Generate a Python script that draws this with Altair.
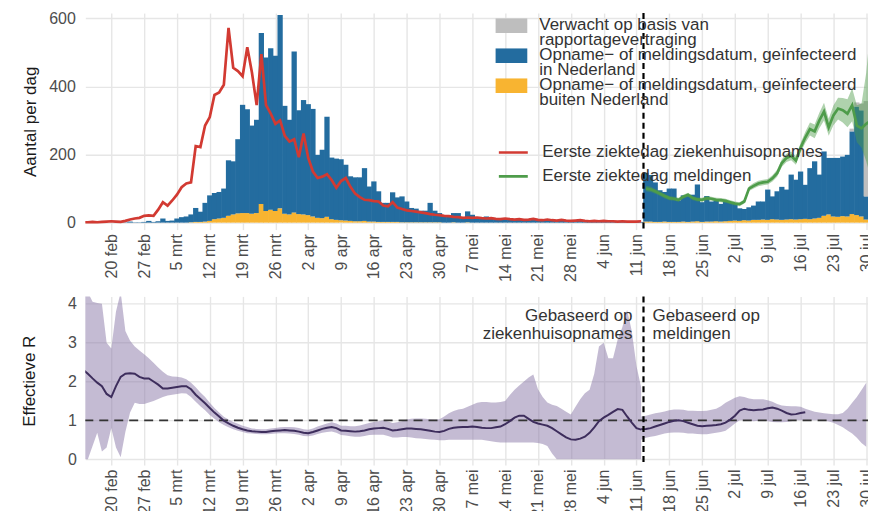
import altair as alt
import pandas as pd

FONT = "Liberation Sans"
FIRST_DAY = "2020-02-14"          # first bar / first curve day
SPLIT_MOMENT = "2020-06-12T12:00:00Z"
DOMAIN = ["2020-02-14T11:00:00Z", "2020-07-31T03:00:00Z"]

# legend lines (one legend row per printed line; every 2nd row continues the entry above)
LEGEND_LINES = ["Verwacht op basis van", "rapportagevertraging",
                "Opname\u2212 of meldingsdatum, geïnfecteerd", "in Nederland",
                "Opname\u2212 of meldingsdatum, geïnfecteerd", "buiten Nederland"]
LEGEND_KEYS = ["%d|%s" % (i, s) for i, s in enumerate(LEGEND_LINES)]
CAT_EXP, CAT_NL, CAT_ABROAD = LEGEND_KEYS[0], LEGEND_KEYS[2], LEGEND_KEYS[4]
SER_RED = "Eerste ziektedag ziekenhuisopnames"
SER_GREEN = "Eerste ziektedag meldingen"

# --- daily bars, 2020-02-14 .. 2020-07-30 (stack top = total) ---
BAR_TOTAL = [0, 0, 0, 0, 1, 0,
             0, 1, 0, 1, 3, 1, 1, 2, 5, 2,
             4, 12, 5, 6, 12, 16, 18, 24, 43, 32,
             58, 80, 87, 90, 100, 183, 180, 245, 346, 333,
             285, 302, 557, 485, 512, 490, 610, 343, 302, 503,
             330, 360, 348, 334, 199, 214, 311, 191, 188, 186,
             170, 136, 133, 133, 160, 106, 121, 92, 58, 58,
             89, 74, 77, 62, 43, 41, 35, 35, 58, 35,
             28, 18, 18, 28, 28, 14, 33, 23, 15, 12,
             18, 14, 10, 12, 9, 13, 8, 10, 9, 7,
             11, 8, 6, 9, 7, 5, 8, 6, 5, 7,
             6, 4, 6, 5, 4, 6, 5, 3, 5, 4,
             3, 4, 3, 2,
             146, 140, 118, 95, 90, 100,
             100, 65, 80, 78, 82, 112, 60, 78, 62, 65,
             55, 62, 58, 55, 42, 40, 45, 50, 62, 62,
             97, 77, 92, 105, 97, 141, 126, 150, 111, 160,
             180, 141, 209, 190, 190, 190, 194, 199, 268, 341,
             330, 77]
BAR_ABROAD = [0, 0, 0, 0, 0, 0,
              0, 0, 0, 0, 0, 0, 0, 0, 0, 0,
              0, 0, 0, 0, 0, 0, 0, 1, 2, 2,
              3, 5, 10, 12, 14, 20, 24, 27, 28, 28,
              26, 28, 55, 34, 38, 34, 42, 26, 24, 30,
              25, 24, 22, 18, 14, 13, 17, 10, 8, 7,
              6, 5, 4, 4, 5, 3, 3, 2, 2, 2,
              2, 2, 1, 1, 1, 1, 1, 1, 1, 1,
              1, 0, 0, 1, 0, 0, 1, 0, 0, 0,
              0, 0, 0, 0, 0, 0, 0, 0, 0, 0,
              0, 0, 0, 0, 0, 0, 0, 0, 0, 0,
              0, 0, 0, 0, 0, 0, 0, 0, 0, 0,
              0, 0, 0, 0,
              3, 3, 2, 2, 3, 2,
              2, 2, 3, 2, 3, 4, 2, 3, 3, 4,
              3, 4, 5, 6, 5, 7, 6, 8, 8, 9,
              8, 10, 9, 8, 9, 10, 9, 10, 11, 10,
              12, 14, 20, 24, 18, 17, 19, 18, 25, 22,
              18, 9]
EXPECTED_DATES = ["2020-07-27", "2020-07-28", "2020-07-29", "2020-07-30"]
EXPECTED_VALUES = [8, 12, 20, 280]

# --- curves ---
RED_START = "2020-02-14"
RED_LINE = [1, 1, 2, 1, 2, 3,
            4, 3, 2, 5, 9, 12, 14, 20, 21, 20,
            38, 60, 50, 65, 82, 104, 115, 118, 225, 222,
            285, 310, 375, 382, 405, 572, 455, 445, 430, 515,
            440, 345, 495, 345, 320, 290, 300, 255, 238, 245,
            192, 262, 190, 150, 131, 135, 142, 125, 102, 122,
            131, 105, 85, 75, 67, 66, 63, 62, 50, 48,
            60, 44, 40, 36, 34, 32, 30, 28, 25, 23,
            22, 20, 19, 17, 16, 14, 15, 14, 15, 13,
            12, 13, 11, 10, 12, 10, 9, 10, 8, 9,
            11, 8, 7, 9, 7, 6, 8, 6, 5, 6,
            7, 5, 4, 5, 4, 5, 4, 4, 3, 4,
            3, 3, 3, 4]
GREEN_START = "2020-06-13"
GREEN_LINE = [100, 98, 92, 85, 78, 72,
              70, 67, 76, 82, 72, 68, 67, 72, 70, 67,
              66, 64, 60, 56, 54, 62, 100, 108, 115, 118,
              120, 130, 145, 175, 190, 196, 182, 220, 250, 275,
              268, 300, 326, 280, 315, 335, 330, 320, 345, 285,
              277, 290, 300]
GREEN_LO = [92, 90, 85, 78, 71, 66,
            64, 61, 70, 76, 66, 62, 61, 66, 64, 61,
            60, 58, 54, 50, 48, 56, 93, 100, 107, 110,
            112, 121, 135, 164, 178, 183, 170, 206, 234, 256,
            248, 277, 300, 255, 286, 303, 294, 280, 298, 236,
            220, 180, 130]
GREEN_HI = [108, 106, 99, 92, 85, 78,
            76, 73, 82, 88, 78, 74, 73, 78, 76, 73,
            72, 70, 66, 62, 60, 68, 107, 116, 123, 126,
            128, 139, 155, 186, 202, 209, 194, 234, 266, 294,
            288, 323, 352, 305, 344, 367, 366, 362, 395, 345,
            350, 440, 590]

# --- effective R ---
R_HOSP_START = "2020-02-14"
R_HOSP = [2.3, 2.2, 2.08, 1.97, 1.88, 1.68,
          1.6, 1.88, 2.12, 2.2, 2.21, 2.2, 2.12, 2.08, 2.08, 2.0,
          1.92, 1.82, 1.82, 1.84, 1.86, 1.88, 1.88, 1.8, 1.66, 1.55,
          1.44, 1.32, 1.2, 1.1, 0.99, 0.92, 0.86, 0.81, 0.77, 0.74,
          0.72, 0.71, 0.7, 0.7, 0.72, 0.73, 0.74, 0.75, 0.74, 0.73,
          0.71, 0.68, 0.67, 0.7, 0.74, 0.78, 0.81, 0.83, 0.8, 0.74,
          0.73, 0.72, 0.71, 0.72, 0.74, 0.77, 0.79, 0.8, 0.81, 0.78,
          0.74, 0.75, 0.77, 0.79, 0.79, 0.78, 0.77, 0.75, 0.73, 0.71,
          0.7, 0.73, 0.78, 0.81, 0.82, 0.83, 0.83, 0.84, 0.83, 0.81,
          0.8, 0.8, 0.82, 0.84, 0.9, 0.98, 1.07, 1.12, 1.12, 1.04,
          0.96, 0.92, 0.89, 0.86, 0.8, 0.72, 0.64, 0.56, 0.51, 0.5,
          0.53, 0.58, 0.68, 0.82, 0.98, 1.07, 1.14, 1.22, 1.29, 1.27,
          1.1, 0.94, 0.8, 0.76]
R_HOSP_LO = [0.0, 0.0, 0.34, 0.68, 0.2, 0.3,
             0.8, 0.3, 0.05, 0.7, 1.2, 1.45, 1.42, 1.42, 1.46, 1.5,
             1.55, 1.6, 1.64, 1.66, 1.68, 1.7, 1.69, 1.6, 1.48, 1.36,
             1.26, 1.14, 1.04, 0.95, 0.88, 0.82, 0.77, 0.73, 0.7, 0.67,
             0.66, 0.65, 0.64, 0.64, 0.65, 0.66, 0.67, 0.67, 0.66, 0.65,
             0.63, 0.6, 0.59, 0.61, 0.65, 0.68, 0.7, 0.71, 0.68, 0.62,
             0.61, 0.59, 0.58, 0.58, 0.6, 0.62, 0.63, 0.63, 0.63, 0.6,
             0.56, 0.56, 0.57, 0.57, 0.56, 0.54, 0.53, 0.52, 0.51, 0.5,
             0.49, 0.49, 0.5, 0.5, 0.5, 0.5, 0.5, 0.5, 0.5, 0.5,
             0.48, 0.46, 0.44, 0.43, 0.43, 0.43, 0.43, 0.43, 0.43, 0.43,
             0.43, 0.42, 0.39, 0.34, 0.15, 0.0, 0.0, 0.0, 0.0, 0.0,
             0.0, 0.0, 0.0, 0.0, 0.0, 0.0, 0.0, 0.0, 0.0, 0.0,
             0.0, 0.0, 0.0, 0.0]
R_HOSP_HI = [4.3, 4.3, 4.05, 4.02, 4.0, 3.0,
             2.85, 3.8, 4.3, 3.3, 3.05, 2.9, 2.8, 2.7, 2.6, 2.48,
             2.36, 2.25, 2.16, 2.13, 2.12, 2.1, 2.06, 1.97, 1.85, 1.72,
             1.6, 1.45, 1.32, 1.2, 1.09, 1.02, 0.96, 0.91, 0.86, 0.83,
             0.79, 0.78, 0.77, 0.77, 0.79, 0.8, 0.82, 0.83, 0.83, 0.82,
             0.8, 0.77, 0.76, 0.79, 0.84, 0.88, 0.92, 0.95, 0.92, 0.86,
             0.86, 0.85, 0.85, 0.87, 0.9, 0.93, 0.96, 0.98, 1.0, 0.97,
             0.93, 0.95, 0.98, 1.02, 1.04, 1.05, 1.05, 1.04, 1.03, 1.02,
             1.03, 1.1, 1.18, 1.24, 1.28, 1.3, 1.35, 1.4, 1.45, 1.47,
             1.47, 1.46, 1.46, 1.47, 1.5, 1.65, 1.79, 1.9, 2.0, 2.1,
             2.18, 1.8, 1.6, 1.46, 1.4, 1.37, 1.3, 1.22, 1.15, 1.35,
             1.54, 1.7, 1.79, 2.2, 2.9, 3.0, 2.6, 2.6, 3.08, 3.4,
             3.85, 3.3, 2.4, 1.85]
R_MELD_START = "2020-06-12"
R_MELD = [0.77, 0.78, 0.8, 0.84, 0.88, 0.92, 0.96, 0.99, 1.0, 0.98,
          0.94, 0.9, 0.86, 0.85, 0.86, 0.87, 0.88, 0.9, 0.94, 1.02,
          1.12, 1.25, 1.3, 1.27, 1.26, 1.27, 1.28, 1.31, 1.33, 1.3,
          1.25, 1.19, 1.15, 1.16, 1.19, 1.21]
R_MELD_LO = [0.5, 0.55, 0.58, 0.6, 0.63, 0.66, 0.68, 0.69, 0.69, 0.68,
             0.66, 0.66, 0.65, 0.64, 0.64, 0.66, 0.68, 0.7, 0.73, 0.82,
             0.92, 1.0, 1.0, 0.99, 0.98, 0.99, 1.0, 0.98, 0.96, 0.95,
             0.95, 0.96, 0.98, 1.0, 1.0, 1.0, 1.0, 1.0, 1.0, 0.99,
             0.97, 0.94, 0.88, 0.82, 0.74, 0.66, 0.55, 0.42, 0.32]
R_MELD_HI = [1.1, 1.12, 1.15, 1.18, 1.2, 1.23, 1.26, 1.28, 1.28, 1.27,
             1.25, 1.25, 1.24, 1.24, 1.25, 1.27, 1.3, 1.36, 1.45, 1.52,
             1.58, 1.62, 1.6, 1.56, 1.54, 1.54, 1.54, 1.52, 1.48, 1.42,
             1.38, 1.37, 1.36, 1.36, 1.35, 1.3, 1.26, 1.22, 1.2, 1.18,
             1.17, 1.16, 1.16, 1.19, 1.3, 1.45, 1.6, 1.78, 1.97]

TICK_START, TICK_END = "2020-02-20", "2020-07-30"
COUNT_TICKS = [0, 200, 400, 600]
R_TICKS = [0, 1, 2, 3, 4]
MONTHS = ["jan", "feb", "mrt", "apr", "mei", "jun", "jul", "aug", "sep", "okt", "nov", "dec"]

COL_BLUE, COL_ORANGE, COL_GREY = "#236c9f", "#f8b431", "#bebebe"
COL_RED, COL_GREEN, COL_PURPLE = "#d23a32", "#4e9c4a", "#3d2d5c"
LEGEND_COLORS = [COL_GREY, "transparent", COL_BLUE, "transparent", COL_ORANGE, "transparent"]


def iso(ts):
    return ts.strftime("%Y-%m-%dT%H:%M:%SZ")


def series(start, values, **extra):
    dates = pd.date_range(start, periods=len(values), freq="D")
    out = pd.DataFrame({"t": [iso(d) for d in dates]})
    for k, v in extra.items():
        out[k] = v
    return out


# bar table (bars overlap a hair so no seams show between neighbours)
half = pd.Timedelta(hours=13, minutes=30)
exp_map = dict(zip(EXPECTED_DATES, EXPECTED_VALUES))
rows = []
for day, tot, ab in zip(pd.date_range(FIRST_DAY, periods=len(BAR_TOTAL), freq="D"), BAR_TOTAL, BAR_ABROAD):
    s, e = iso(day - half), iso(day + half)
    if ab > 0:
        rows.append(dict(start=s, end=e, cat=CAT_ABROAD, y0=0, y1=ab))
    if tot - ab > 0:
        rows.append(dict(start=s, end=e, cat=CAT_NL, y0=ab, y1=tot))
    ex = exp_map.get(day.strftime("%Y-%m-%d"), 0)
    if ex > 0:
        rows.append(dict(start=s, end=e, cat=CAT_EXP, y0=tot, y1=tot + ex))
bars_df = pd.DataFrame(rows)

lines_df = pd.concat([
    series(RED_START, RED_LINE, v=RED_LINE, s=SER_RED),
    series(GREEN_START, GREEN_LINE, v=GREEN_LINE, s=SER_GREEN),
])
gband_df = series(GREEN_START, GREEN_LINE, lo=GREEN_LO, hi=GREEN_HI)
rline_df = pd.concat([
    series(R_HOSP_START, R_HOSP, r=R_HOSP, seg="h"),
    series(R_MELD_START, R_MELD, r=R_MELD, seg="m"),
])
rband_df = pd.concat([
    series(R_HOSP_START, R_HOSP, lo=R_HOSP_LO, hi=R_HOSP_HI, seg="h"),
    series(R_MELD_START, R_MELD_LO, lo=R_MELD_LO, hi=R_MELD_HI, seg="m"),
])
split_df = pd.DataFrame({"t": [SPLIT_MOMENT]})
one_df = pd.DataFrame({"r": [1]})
ann_df = pd.DataFrame({
    "t": [SPLIT_MOMENT, SPLIT_MOMENT],
    "txt": ["Gebaseerd op\nziekenhuisopnames", "Gebaseerd op\nmeldingen"],
})

tick_ms = [int(d.value // 10**6) for d in pd.date_range(TICK_START, TICK_END, freq="7D")]
month_js = "[" + ",".join("'%s'" % m for m in MONTHS) + "]"

x_scale = alt.Scale(type="utc", domain=DOMAIN, nice=False)
x_axis = alt.Axis(values=tick_ms, labelExpr="utcdate(datum.value) + ' ' + %s[utcmonth(datum.value)]" % month_js,
                  labelAngle=270, labelAlign="right", labelBaseline="middle", labelPadding=4,
                  labelFlush=False, labelOverlap=False, title=None, grid=True)


def X(field):
    return alt.X(field, type="temporal", scale=x_scale, axis=x_axis)


cnt_scale = alt.Scale(domain=[-20.5, 615.5], nice=False, zero=False)
cnt_axis = alt.Axis(values=COUNT_TICKS, title="Aantal per dag", labelPadding=10, titlePadding=9, grid=True)
r_scale = alt.Scale(domain=[-0.15, 4.19], nice=False, zero=False)
r_axis = alt.Axis(values=R_TICKS, title="Effectieve R", labelPadding=9, titlePadding=29, grid=True)


def YC(field):
    return alt.Y(field, type="quantitative", scale=cnt_scale, axis=cnt_axis)


def YR(field):
    return alt.Y(field, type="quantitative", scale=r_scale, axis=r_axis)


bars = alt.Chart(bars_df).mark_rect().encode(
    x=X("start"), x2="end", y=YC("y0"), y2="y1",
    fill=alt.Fill("cat:N",
                  scale=alt.Scale(domain=LEGEND_KEYS, range=LEGEND_COLORS),
                  legend=alt.Legend(orient="none", legendX=411, legendY=5.25, title=None, padding=0,
                                    symbolType="M-1,-0.422H1V1.159H-1Z", symbolSize=1024,
                                    symbolStrokeWidth=0, symbolOpacity=1,
                                    labelExpr="split(datum.label, '|')[1]", labelFontSize=17,
                                    labelFont=FONT, labelColor="#333333", labelLimit=900,
                                    labelOffset=12, clipHeight=13.5, rowPadding=-13.55)),
)
gband = alt.Chart(gband_df).mark_area(color=COL_GREEN, opacity=0.45, clip=True).encode(
    x=X("t"), y=YC("lo"), y2="hi")
lines = alt.Chart(lines_df).mark_line(strokeWidth=2.7, clip=True).encode(
    x=X("t"), y=YC("v"),
    stroke=alt.Stroke("s:N", scale=alt.Scale(domain=[SER_RED, SER_GREEN], range=[COL_RED, COL_GREEN]),
                      legend=alt.Legend(orient="none", legendX=413, legendY=127.7, title=None, padding=0,
                                        symbolType="stroke", symbolSize=841, symbolStrokeWidth=2.6,
                                        labelFontSize=17, labelFont=FONT, labelColor="#333333",
                                        labelLimit=900, labelOffset=13, clipHeight=24, rowPadding=0)),
)
vrule_top = alt.Chart(split_df).mark_rule(color="#000000", strokeWidth=2.2, strokeDash=[6, 4]).encode(x=X("t"))

top = alt.layer(bars, gband, lines, vrule_top).properties(width=788, height=217)

rband = alt.Chart(rband_df).mark_area(color="#8a77a8", opacity=0.5, clip=True).encode(
    x=X("t"), y=YR("lo"), y2="hi", detail="seg:N")
hrule = alt.Chart(one_df).mark_rule(color="#333333", strokeWidth=1.8, strokeDash=[9, 6]).encode(y=YR("r"))
rline = alt.Chart(rline_df).mark_line(color=COL_PURPLE, strokeWidth=2, clip=True).encode(
    x=X("t"), y=YR("r"), detail="seg:N")
vrule_bot = alt.Chart(split_df).mark_rule(color="#000000", strokeWidth=2.2, strokeDash=[6, 4]).encode(x=X("t"))
ann_left = alt.Chart(ann_df.iloc[[0]]).mark_text(
    align="right", baseline="top", dx=-11, lineBreak="\n", lineHeight=17.5,
    font=FONT, fontSize=17, color="#333333").encode(x=X("t"), y=alt.value(12), text="txt:N")
ann_right = alt.Chart(ann_df.iloc[[1]]).mark_text(
    align="left", baseline="top", dx=9, lineBreak="\n", lineHeight=17.5,
    font=FONT, fontSize=17, color="#333333").encode(x=X("t"), y=alt.value(12), text="txt:N")

bottom = alt.layer(rband, hrule, rline, vrule_bot, ann_left, ann_right).properties(width=788, height=169)

chart = alt.vconcat(top, bottom, spacing=67, bounds="flush").properties(
    padding={"left": 12.5, "top": 1.5, "right": -6.5, "bottom": 0}
).configure_view(stroke=None).configure_axis(
    domain=False, ticks=False, gridColor="#e6e6e6", gridWidth=1.4,
    labelFont=FONT, titleFont=FONT, labelFontSize=16, titleFontSize=17,
    labelColor="#4d4d4d", titleColor="#1a1a1a", titleFontWeight="normal",
).configure_legend(labelFont=FONT)

chart.save("out.html", embed_options={"renderer": "svg", "actions": False})
